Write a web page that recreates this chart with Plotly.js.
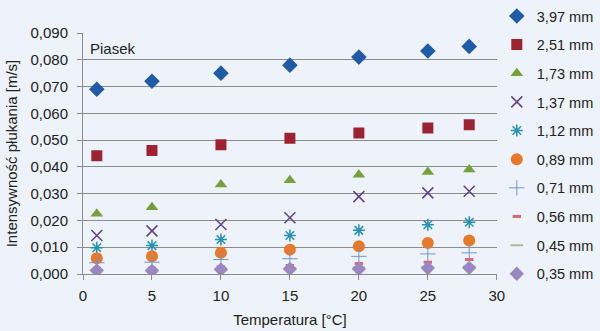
<!DOCTYPE html>
<html>
<head>
<meta charset="utf-8">
<script src="https://cdn.plot.ly/plotly-3.0.1.min.js"></script>
<style>html,body{margin:0;padding:0;background:#eef3fb;}#chart{width:600px;height:331px;}</style>
</head>
<body>
<div id="chart"></div>
<script>
// Temperatures [°C]
const temperature = [1, 5, 10, 15, 20, 25, 28];
// Series names (grain size)
const seriesNames = ["3,97 mm", "2,51 mm", "1,73 mm", "1,37 mm", "1,12 mm", "0,89 mm", "0,71 mm", "0,56 mm", "0,45 mm", "0,35 mm"];
// Backwash intensity [m/s] per series
const s397 = [0.069, 0.072, 0.075, 0.078, 0.081, 0.0833, 0.085];
const s251 = [0.0442, 0.0461, 0.0483, 0.0507, 0.0527, 0.0545, 0.0557];
const s173 = [0.0225, 0.0249, 0.0334, 0.0350, 0.0371, 0.0381, 0.0390];
const s137 = [0.0144, 0.0161, 0.0185, 0.0210, 0.0289, 0.0303, 0.0309];
const s112 = [0.0098, 0.0106, 0.0129, 0.0144, 0.0163, 0.0184, 0.0193];
const s089 = [0.0059, 0.0066, 0.0079, 0.0091, 0.0104, 0.0116, 0.0125];
const s071 = [0.0042, 0.0044, 0.0054, 0.0057, 0.0066, 0.0075, 0.0079];
const s056 = [0.0020, 0.0022, 0.0027, 0.0032, 0.0039, 0.0044, 0.0054];
const s045 = [0.0016, 0.0017, 0.0020, 0.0022, 0.0024, 0.0026, 0.0028];
const s035 = [0.0013, 0.0012, 0.0017, 0.0019, 0.0019, 0.0022, 0.0023];
// Axis tick values
const yTicks = [0, 0.01, 0.02, 0.03, 0.04, 0.05, 0.06, 0.07, 0.08, 0.09];
const xTicks = [0, 5, 10, 15, 20, 25, 30];

const allSeries = [s397, s251, s173, s137, s112, s089, s071, s056, s045, s035];
const markers = [
  {symbol: "diamond", size: 12, color: "#1f5ba6"},
  {symbol: "square", size: 11, color: "#9e2332"},
  {symbol: "triangle-up", size: 11, color: "#76a03a"},
  {symbol: "x-thin", size: 11, color: "#5e418c", line: {width: 1.5, color: "#5e418c"}},
  {symbol: "asterisk", size: 10, color: "#2592b2", line: {width: 1.5, color: "#2592b2"}},
  {symbol: "circle", size: 12, color: "#e8782a"},
  {symbol: "cross-thin", size: 11, color: "#6f96cc", line: {width: 1, color: "#6f96cc"}},
  {symbol: "line-ew", size: 6, color: "#d86a70", line: {width: 3, color: "#d86a70"}},
  {symbol: "line-ew", size: 9, color: "#a6c28a", line: {width: 2, color: "#a6c28a"}},
  {symbol: "diamond", size: 11, color: "#9a88c2"}
];

const FONT = "Liberation Sans, Arial, sans-serif";
const traces = allSeries.map((vals, i) => ({
  type: "scatter",
  mode: "markers",
  x: temperature,
  y: vals,
  name: seriesNames[i],
  legendgroup: "g" + i,
  marker: markers[i],
  hoverinfo: "skip"
}));

const layout = {
  width: 600, height: 331,
  margin: {l: 83, r: 103, t: 33, b: 57, pad: 0},
  paper_bgcolor: "#eef3fb",
  plot_bgcolor: "#eef3fb",
  separators: ", ",
  font: {family: FONT, size: 15, color: "#222"},
  showlegend: true,
  legend: {xref: "container", yref: "container", x: 0.828, xanchor: "left", y: 1.006, yanchor: "top",
           maxheight: 340, tracegroupgap: 6.8,
           bgcolor: "rgba(0,0,0,0)", borderwidth: 0, itemwidth: 30,
           font: {family: FONT, size: 14.5, color: "#222"}},
  xaxis: {
    range: [0, 30], tickvals: xTicks, ticktext: xTicks.map(String),
    showgrid: false, zeroline: false,
    showline: true, linecolor: "#8c8c8c", linewidth: 1,
    ticks: "outside", ticklen: 5, tickcolor: "#8c8c8c",
    ticklabelstandoff: 3,
    tickfont: {family: FONT, size: 15, color: "#222"},
    title: {text: "Temperatura [°C]", font: {family: FONT, size: 15, color: "#222"}, standoff: 11}
  },
  yaxis: {
    range: [0, 0.09], tickvals: yTicks, tickformat: ".3f",
    showgrid: true, gridcolor: "#8c8c8c", gridwidth: 1, zeroline: false,
    showline: true, linecolor: "#8c8c8c", linewidth: 1,
    ticks: "outside", ticklen: 5, tickcolor: "#8c8c8c",
    ticklabelstandoff: 6,
    tickfont: {family: FONT, size: 15, color: "#222"},
    title: {text: "Intensywność płukania [m/s]", font: {family: FONT, size: 15, color: "#222"}, standoff: 9}
  },
  annotations: [{
    xref: "x", yref: "y", x: 0.35, y: 0.0841, xanchor: "left", yanchor: "middle",
    text: "Piasek", showarrow: false, font: {family: FONT, size: 15, color: "#222"}
  }]
};

Plotly.newPlot("chart", traces, layout, {displayModeBar: false, staticPlot: true});
</script>
</body>
</html>
